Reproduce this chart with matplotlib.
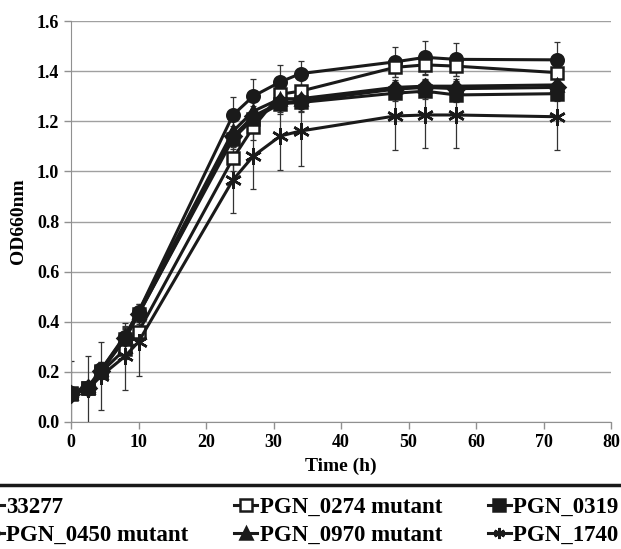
import matplotlib
matplotlib.use("Agg")
import matplotlib.pyplot as plt
from matplotlib.lines import Line2D

plt.rcParams['font.family'] = ['Liberation Serif', 'DejaVu Serif']
plt.rcParams['font.weight'] = 'bold'

# sampling times (h)
time_h = [0, 2.5, 4.5, 8, 10, 24, 27, 31, 34, 48, 52.5, 57, 72]

# OD660 means per strain
od_33277 = [0.115, 0.135, 0.21, 0.34, 0.44, 1.225, 1.30, 1.357, 1.39, 1.437, 1.455, 1.447, 1.445]
od_0274 = [0.115, 0.135, 0.20, 0.29, 0.36, 1.052, 1.176, 1.308, 1.32, 1.415, 1.425, 1.42, 1.394]
od_0319 = [0.11, 0.135, 0.205, 0.33, 0.43, 1.13, 1.21, 1.27, 1.275, 1.312, 1.32, 1.305, 1.31]
od_0450 = [0.11, 0.135, 0.205, 0.335, 0.43, 1.14, 1.22, 1.275, 1.28, 1.328, 1.335, 1.33, 1.335]
od_0970 = [0.115, 0.14, 0.21, 0.345, 0.44, 1.16, 1.24, 1.29, 1.29, 1.335, 1.34, 1.34, 1.345]
od_1740 = [0.11, 0.13, 0.185, 0.262, 0.32, 0.966, 1.061, 1.141, 1.161, 1.221, 1.225, 1.225, 1.218]

# standard deviations
sd_33277 = [0.02, 0.02, 0.03, 0.04, 0.03, 0.073, 0.07, 0.067, 0.05, 0.06, 0.065, 0.065, 0.07]
sd_0274 = [0.02, 0.02, 0.03, 0.04, 0.03, 0.05, 0.05, 0.05, 0.05, 0.04, 0.04, 0.04, 0.04]
sd_0319 = [0.02, 0.02, 0.03, 0.04, 0.03, 0.04, 0.04, 0.04, 0.04, 0.03, 0.03, 0.03, 0.03]
sd_0450 = [0.02, 0.02, 0.03, 0.04, 0.03, 0.04, 0.04, 0.04, 0.04, 0.03, 0.03, 0.03, 0.03]
sd_0970 = [0.02, 0.02, 0.03, 0.04, 0.03, 0.04, 0.04, 0.04, 0.04, 0.03, 0.03, 0.03, 0.03]
sd_1740 = [0.132, 0.132, 0.136, 0.135, 0.135, 0.133, 0.13, 0.135, 0.14, 0.135, 0.133, 0.133, 0.133]

labels = ["33277", "PGN_0274 mutant", "PGN_0319 mutant",
          "PGN_0450 mutant", "PGN_0970 mutant", "PGN_1740 mutant"]
means = [od_33277, od_0274, od_0319, od_0450, od_0970, od_1740]
sds = [sd_33277, sd_0274, sd_0319, sd_0450, sd_0970, sd_1740]
markers = ['o', 's', 's', 'D', '^', (6, 2, 0)]
faces = ['#1a1a1a', 'white', '#1a1a1a', '#1a1a1a', '#1a1a1a', '#1a1a1a']
sizes = [9, 8.5, 8.5, 8, 9, 12]

ink = '#1a1a1a'

fig = plt.figure(figsize=(6.21, 5.49), dpi=100)
ax = fig.add_axes([71 / 621, 1 - 422 / 549, 540 / 621, 401 / 549])

# draw bottom-up so circle / open square sit on top
order = [5, 3, 2, 4, 1, 0]
handles = {}
for i in order:
    ax.errorbar(time_h, means[i], yerr=sds[i], fmt='none', ecolor='#333333',
                elinewidth=0.9, capsize=2.5, capthick=0.9, zorder=2)
    h, = ax.plot(time_h, means[i], color=ink, lw=2.2, marker=markers[i],
                 ms=sizes[i], mfc=faces[i], mec=ink, mew=1.8, zorder=3 + i,
                 label=labels[i])
    handles[i] = h

ax.set_xlim(0, 80)
ax.set_ylim(0, 1.6)
ax.set_xticks(range(0, 81, 10))
ax.set_yticks([0.0, 0.2, 0.4, 0.6, 0.8, 1.0, 1.2, 1.4, 1.6])
ax.set_yticklabels(['%.1f' % v for v in ax.get_yticks()])
ax.yaxis.grid(True, color='#a0a0a0', lw=1)
ax.set_axisbelow(True)
for s in ['top', 'right']:
    ax.spines[s].set_visible(False)
for s in ['left', 'bottom']:
    ax.spines[s].set_color('#909090')
ax.tick_params(axis='both', colors='#909090', labelcolor='black',
               labelsize=13, length=5, width=1)
for lab in ax.get_xticklabels() + ax.get_yticklabels():
    lab.set_fontweight('bold')
ax.set_xlabel("Time (h)", fontsize=14, fontweight='bold', labelpad=5)
ax.set_ylabel("OD660nm", fontsize=14, fontweight='bold', labelpad=7)

# legend strip under the plot (cropped at both edges, as in the source)
fig.add_artist(Line2D([0, 1], [1 - 485 / 549, 1 - 485 / 549],
                      transform=fig.transFigure, color=ink, lw=2.5))
leg_order = [0, 3, 1, 4, 2, 5]
leg = fig.legend([handles[i] for i in leg_order], [labels[i] for i in leg_order],
                 loc='upper left', bbox_to_anchor=(-19 / 621, 1 - 497 / 549),
                 ncol=3, frameon=False, handlelength=1.0, handletextpad=0.1,
                 columnspacing=2.0, labelspacing=0.3, borderaxespad=0,
                 borderpad=0, prop={'size': 16.5, 'weight': 'bold'})
for h in leg.legend_handles:
    h.set_markersize(8)

fig.savefig("out.png", dpi=100)
